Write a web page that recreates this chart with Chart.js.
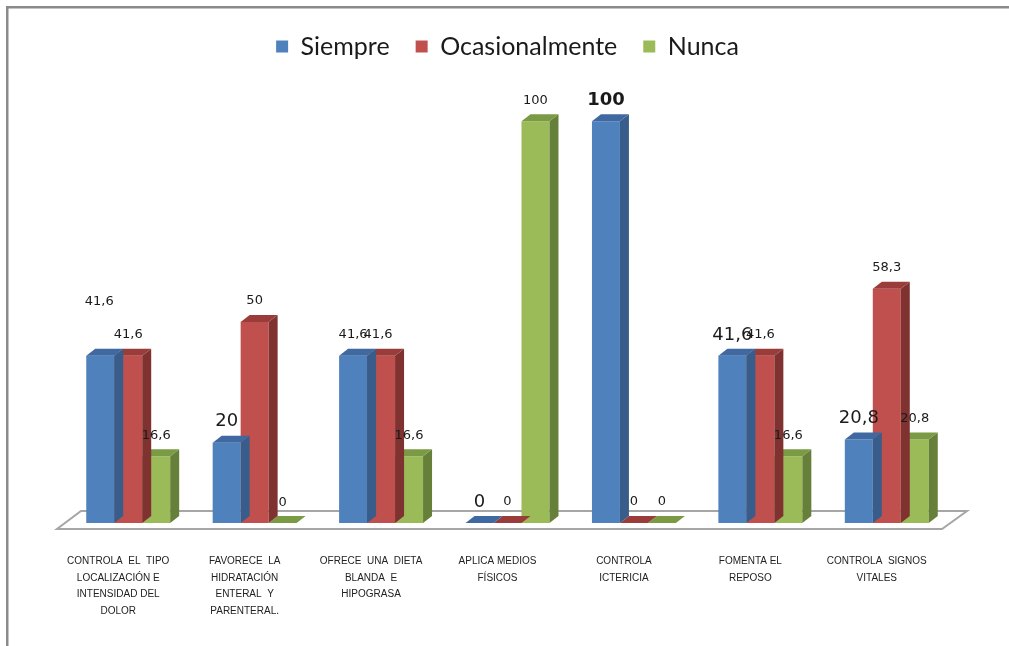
<!DOCTYPE html>
<html>
<head>
<meta charset="utf-8">
<title>Cuidados de enfermería</title>
<script src="https://cdn.jsdelivr.net/npm/chart.js@4/dist/chart.umd.min.js"></script>
<style>
  html, body { margin: 0; padding: 0; background: #fff; }
  #wrap { width: 1009px; height: 646px; }
</style>
</head>
<body>
<div id="wrap"><canvas id="cuidadosChart" width="1009" height="646"></canvas></div>
<script>
// categorias (cada una partida en lineas)
const categories = [
  ['CONTROLA  EL  TIPO', 'LOCALIZACIÓN E', 'INTENSIDAD DEL', 'DOLOR'],
  ['FAVORECE  LA', 'HIDRATACIÓN', 'ENTERAL  Y', 'PARENTERAL.'],
  ['OFRECE  UNA  DIETA', 'BLANDA  E', 'HIPOGRASA'],
  ['APLICA MEDIOS', 'FÍSICOS'],
  ['CONTROLA', 'ICTERICIA'],
  ['FOMENTA EL', 'REPOSO'],
  ['CONTROLA  SIGNOS', 'VITALES']
];

const seriesNames = ['Siempre', 'Ocasionalmente', 'Nunca'];
const siempre = [41.6, 20, 41.6, 0, 100, 41.6, 20.8];
const ocasionalmente = [41.6, 50, 41.6, 0, 0, 41.6, 58.3];
const nunca = [16.6, 0, 16.6, 100, 0, 16.6, 20.8];

// colores: frente, lateral y tapa de cada serie
const frontColors = ['#4F81BD', '#C0504D', '#9BBB59'];
const sideColors = ['#385D8A', '#7F3230', '#66803A'];
const topColors = ['#3F69A0', '#9A3C3A', '#7A9A44'];

// etiquetas de valor que van mas grandes [serie, categoria]
const bigLabels = [[0, 1], [0, 3], [0, 4], [0, 5], [0, 6]];
// desplazamiento extra de algunas etiquetas [serie, categoria, dx, dy]
const labelShifts = [[0, 0, -1, -33], [1, 2, -3, 0], [2, 1, 0, 1]];

const DEPTH_X = 9;
const DEPTH_Y = 7;

function isBig(ds, i) {
  return bigLabels.some(b => b[0] === ds && b[1] === i);
}

function shiftFor(ds, i) {
  const s = labelShifts.find(b => b[0] === ds && b[1] === i);
  return s ? [s[2], s[3]] : [0, 0];
}

function fmt(v) {
  return String(v).replace('.', ',');
}

function poly(ctx, pts, color) {
  ctx.beginPath();
  ctx.moveTo(pts[0][0], pts[0][1]);
  for (let k = 1; k < pts.length; k++) ctx.lineTo(pts[k][0], pts[k][1]);
  ctx.closePath();
  ctx.fillStyle = color;
  ctx.fill();
}

// marco, piso, caras laterales y etiquetas de las barras
const bar3d = {
  id: 'bar3d',
  beforeDraw(chart) {
    const ctx = chart.ctx;
    ctx.save();
    ctx.fillStyle = '#fff';
    ctx.fillRect(0, 0, chart.width, chart.height);
    ctx.strokeStyle = '#8a8a8a';
    ctx.lineWidth = 2.5;
    ctx.beginPath();
    ctx.moveTo(7.25, chart.height);
    ctx.lineTo(7.25, 7.25);
    ctx.lineTo(chart.width, 7.25);
    ctx.stroke();
    ctx.restore();
  },
  beforeDatasetsDraw(chart) {
    const ctx = chart.ctx;
    const a = chart.chartArea;
    ctx.save();
    ctx.beginPath();
    ctx.moveTo(a.left - 8, a.bottom + 6);
    ctx.lineTo(a.right - 8, a.bottom + 6);
    ctx.lineTo(a.right + 17, a.bottom - 12);
    ctx.lineTo(a.left + 16, a.bottom - 12);
    ctx.closePath();
    ctx.fillStyle = '#fff';
    ctx.fill();
    ctx.strokeStyle = '#a6a6a6';
    ctx.lineWidth = 2;
    ctx.stroke();
    ctx.restore();
  },
  afterDatasetDraw(chart, args) {
    const ctx = chart.ctx;
    const d = args.index;
    ctx.save();
    args.meta.data.forEach(bar => {
      const p = bar.getProps(['x', 'y', 'base', 'width'], true);
      const l = p.x - p.width / 2;
      const r = p.x + p.width / 2;
      if (p.base - p.y > 0.5) {
        poly(ctx, [[r, p.y], [r + DEPTH_X, p.y - DEPTH_Y], [r + DEPTH_X, p.base - DEPTH_Y], [r, p.base]], sideColors[d]);
      }
      poly(ctx, [[l, p.y], [l + DEPTH_X, p.y - DEPTH_Y], [r + DEPTH_X, p.y - DEPTH_Y], [r, p.y]], topColors[d]);
    });
    ctx.restore();
  },
  afterDatasetsDraw(chart) {
    const ctx = chart.ctx;
    ctx.save();
    ctx.textAlign = 'center';
    ctx.textBaseline = 'middle';
    ctx.fillStyle = '#1a1a1a';
    chart.data.datasets.forEach((ds, d) => {
      chart.getDatasetMeta(d).data.forEach((bar, i) => {
        const p = bar.getProps(['x', 'y'], true);
        const big = isBig(d, i);
        const sh = shiftFor(d, i);
        ctx.font = big ? (ds.data[i] === 100 ? 'bold ' : '') + '18px "DejaVu Sans"' : '13px "DejaVu Sans"';
        ctx.fillText(fmt(ds.data[i]), p.x + sh[0], p.y - 21 + sh[1]);
      });
    });
    ctx.restore();
  }
};

function showCuidadosChart() {
  const ctx = document.getElementById('cuidadosChart').getContext('2d');
  const series = [siempre, ocasionalmente, nunca];
  return new Chart(ctx, {
    type: 'bar',
    data: {
      labels: categories,
      datasets: series.map((values, d) => ({
        label: seriesNames[d],
        data: values,
        backgroundColor: frontColors[d],
        borderWidth: 0,
        categoryPercentage: 0.664,
        barPercentage: 1.0
      }))
    },
    options: {
      responsive: false,
      animation: false,
      events: [],
      layout: { padding: { left: 65, right: 59, top: 8, bottom: -3 } },
      plugins: {
        legend: {
          position: 'top',
          labels: {
            font: { family: 'Lato', size: 25 },
            color: '#1a1a1a',
            boxWidth: 12,
            boxHeight: 12,
            padding: 26
          }
        },
        tooltip: { enabled: false }
      },
      scales: {
        x: {
          grid: { display: false, drawTicks: false },
          border: { display: false },
          ticks: {
            autoSkip: false,
            maxRotation: 0,
            padding: 30,
            labelOffset: -10,
            color: '#222',
            font: { family: 'Liberation Sans', size: 10, lineHeight: 1.65 }
          }
        },
        y: {
          display: false,
          min: 0,
          max: 113
        }
      }
    },
    plugins: [bar3d]
  });
}

showCuidadosChart();
</script>
</body>
</html>
